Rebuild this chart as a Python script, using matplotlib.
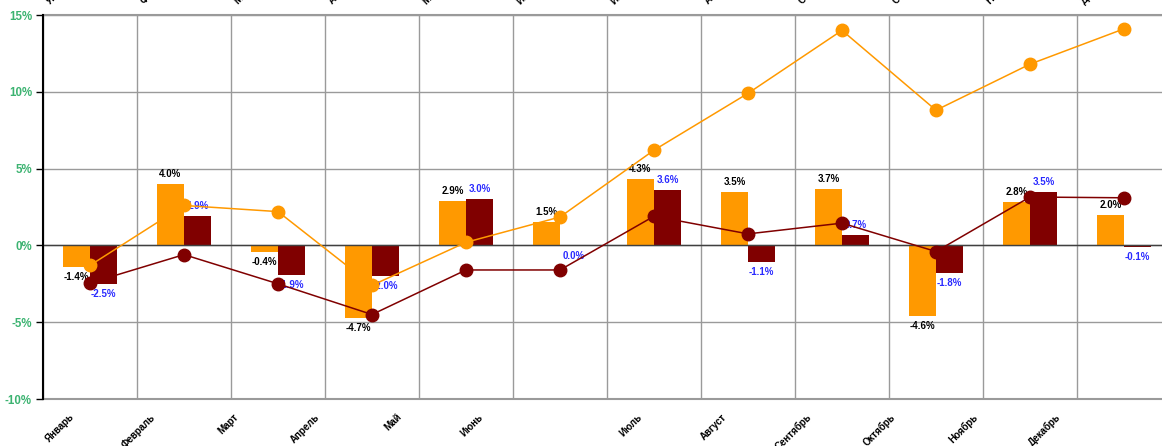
import matplotlib
matplotlib.use('Agg')
import matplotlib.pyplot as plt
import matplotlib.transforms as mtransforms
import numpy as np

plt.rcParams['font.family'] = ['Liberation Sans', 'DejaVu Sans']

# --- data ---
months = ['Январь', 'Февраль', 'Март', 'Апрель', 'Май', 'Июнь',
          'Июль', 'Август', 'Сентябрь', 'Октябрь', 'Ноябрь', 'Декабрь']
bar_orange = [-1.4, 4.0, -0.4, -4.7, 2.9, 1.5, 4.3, 3.5, 3.7, -4.6, 2.8, 2.0]
bar_red = [-2.5, 1.9, -1.9, -2.0, 3.0, -0.04, 3.6, -1.1, 0.7, -1.8, 3.5, -0.1]
line_orange = [-1.3, 2.6, 2.2, -2.6, 0.2, 1.85, 6.2, 9.9, 14.0, 8.8, 11.8, 14.1]
line_red = [-2.45, -0.6, -2.5, -4.5, -1.6, -1.6, 1.9, 0.75, 1.45, -0.4, 3.15, 3.1]
yticks = [-10, -5, 0, 5, 10, 15]

# label shifts (px) -- the month labels drift left in the original
xlabel_shift = [-14, -27, -38, -51, -62, -75, -10, -19, -28, -39, -50, -61]

ORANGE = '#ff9900'
DARKRED = '#800000'
BLUE = '#2a2aff'
GREEN = '#3cb371'
GRID = '#9a9a9a'

fig = plt.figure(figsize=(11.62, 4.46), dpi=100)
ax = fig.add_axes([43/1162, 1 - 399/446, 1128/1162, 384/446])

x = np.arange(len(months))
w = 0.29

ax.bar(x - w/2, bar_orange, w, color=ORANGE, zorder=2)
ax.bar(x + w/2, bar_red, w, color=DARKRED, zorder=2)

ax.plot(x, line_orange, color=ORANGE, lw=1.1, marker='o', ms=9, zorder=5)
ax.plot(x, line_red, color=DARKRED, lw=1.1, marker='o', ms=9, zorder=6)

px = lambda dx, dy: mtransforms.ScaledTranslation(dx/100, dy/100, fig.dpi_scale_trans)

# value labels
for i in range(len(months)):
    for v, off, col in ((bar_orange[i], -w/2, 'black'), (bar_red[i], w/2, BLUE)):
        txt = f"{round(v, 1) + 0.0:.1f}%"
        if v >= 0:
            ax.text(x[i] + off, v, txt, ha='center', va='bottom', fontsize=7,
                    fontweight='bold', color=col, zorder=4,
                    transform=ax.transData + px(0, 5))
        else:
            ax.text(x[i] + off, v, txt, ha='center', va='top', fontsize=7,
                    fontweight='bold', color=col, zorder=4,
                    transform=ax.transData + px(0, -5))

ax.set_xlim(-0.5, len(months) - 0.5)
ax.set_ylim(-10, 15)
ax.set_yticks(yticks)
ax.set_yticklabels([f"{t}%" for t in yticks], color=GREEN, fontweight='bold', fontsize=8.3)
ax.tick_params(axis='y', length=5, width=1, color='black', pad=3)

# grid
ax.set_xticks(np.arange(-0.5, len(months), 1.0), minor=True)
ax.set_xticks([])
ax.grid(axis='x', which='minor', color=GRID, lw=1, zorder=0)
ax.grid(axis='y', which='major', color=GRID, lw=1, zorder=0)
ax.tick_params(axis='x', which='both', length=0)
ax.axhline(0, color='#404040', lw=1, zorder=3)
ax.axhline(-10, color=GRID, lw=1.5, zorder=1, clip_on=False)
ax.axhline(15, color=GRID, lw=1.5, zorder=1, clip_on=False)

for s in ('top', 'right', 'bottom'):
    ax.spines[s].set_visible(False)
ax.spines['left'].set_color('black')
ax.spines['left'].set_linewidth(1.5)
ax.spines['left'].set_zorder(7)

# bottom month labels
xt = ax.get_xaxis_transform()
for i, m in enumerate(months):
    ax.text(x[i], 0, m, rotation=45, ha='right', va='top', fontsize=7,
            fontweight='bold', transform=xt + px(xlabel_shift[i], -13), clip_on=False)

# top month labels (mostly outside the picture, as in the original)
for i, m in enumerate(months):
    ax.text(x[i], 1, m, rotation=45, ha='left', va='baseline', rotation_mode='anchor',
            fontsize=7, fontweight='bold', transform=xt + px(-40, 10), clip_on=False)

fig.savefig('out.png', dpi=100)
